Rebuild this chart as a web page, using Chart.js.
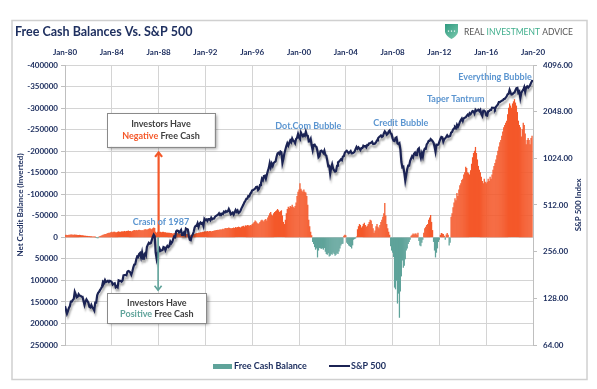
<!DOCTYPE html>
<html>
<head>
<meta charset="utf-8">
<script src="https://cdn.jsdelivr.net/npm/chart.js@4.4.1/dist/chart.umd.min.js"></script>
<style>
  html, body { margin: 0; padding: 0; background: #fff; }
  #wrap { position: relative; width: 597px; height: 389px; }
</style>
</head>
<body>
<div id="wrap"><canvas id="chart" width="597" height="389"></canvas></div>
<script>
// Eje superior (fechas) y eje derecho (S&P 500, log)
const tickYears = [1980, 1984, 1988, 1992, 1996, 2000, 2004, 2008, 2012, 2016, 2020];
const tickLabels = ['Jan-80', 'Jan-84', 'Jan-88', 'Jan-92', 'Jan-96', 'Jan-00', 'Jan-04', 'Jan-08', 'Jan-12', 'Jan-16', 'Jan-20'];
const spTicks = [64, 128, 256, 512, 1024, 2048, 4096];

// S&P 500, cierre mensual
const spx1980s = [
    114, 114, 102, 106, 111, 114, 122, 122, 125, 127, 141, 136,
    130, 131, 136, 133, 133, 131, 131, 123, 116, 122, 126, 123,
    120, 113, 112, 116, 112, 110, 107, 120, 120, 134, 139, 141,
    145, 148, 153, 164, 162, 168, 163, 164, 166, 163, 166, 165,
    163, 157, 159, 160, 151, 153, 151, 167, 166, 166, 164, 167,
    180, 181, 181, 180, 190, 192, 191, 188, 182, 190, 202, 211,
    212, 227, 238, 236, 247, 251, 236, 253, 231, 244, 249, 242,
    274, 284, 292, 288, 290, 304, 319, 330, 322, 252, 230, 247,
    257, 268, 259, 261, 262, 274, 272, 262, 272, 279, 274, 278,
    297, 289, 295, 310, 321, 318, 346, 351, 349, 340, 346, 353
];
const spx1990s = [
    329, 332, 340, 331, 361, 358, 356, 323, 306, 304, 322, 330,
    344, 367, 375, 375, 390, 371, 388, 395, 388, 392, 375, 417,
    409, 413, 404, 415, 415, 408, 424, 414, 418, 419, 431, 436,
    439, 443, 452, 440, 450, 451, 448, 464, 459, 468, 462, 466,
    482, 467, 446, 451, 457, 444, 458, 475, 463, 472, 454, 459,
    470, 487, 501, 515, 533, 545, 562, 562, 584, 582, 605, 616,
    636, 640, 646, 654, 669, 671, 640, 652, 687, 705, 757, 741,
    786, 791, 757, 801, 848, 885, 954, 899, 947, 915, 955, 970,
    980, 1049, 1102, 1112, 1091, 1134, 1121, 957, 1017, 1099, 1164, 1229,
    1280, 1238, 1286, 1335, 1302, 1373, 1329, 1320, 1283, 1363, 1389, 1469
];
const spx2000s = [
    1394, 1366, 1499, 1452, 1421, 1455, 1431, 1518, 1437, 1429, 1315, 1320,
    1366, 1240, 1160, 1249, 1256, 1224, 1211, 1134, 1041, 1060, 1139, 1148,
    1130, 1107, 1147, 1077, 1067, 990, 912, 916, 815, 886, 936, 880,
    856, 841, 848, 917, 964, 975, 990, 1008, 996, 1051, 1058, 1112,
    1131, 1145, 1126, 1107, 1121, 1141, 1102, 1104, 1115, 1130, 1174, 1212,
    1181, 1204, 1181, 1157, 1192, 1191, 1234, 1220, 1229, 1207, 1249, 1248,
    1280, 1281, 1295, 1311, 1270, 1270, 1277, 1304, 1336, 1378, 1401, 1418,
    1438, 1407, 1421, 1482, 1531, 1503, 1455, 1474, 1527, 1549, 1481, 1468,
    1379, 1331, 1323, 1386, 1400, 1280, 1267, 1283, 1165, 969, 896, 903,
    826, 735, 798, 873, 919, 919, 987, 1021, 1057, 1036, 1096, 1115
];
const spx2010s = [
    1074, 1104, 1169, 1187, 1089, 1031, 1102, 1049, 1141, 1183, 1181, 1258,
    1286, 1327, 1326, 1364, 1345, 1321, 1292, 1219, 1131, 1253, 1247, 1258,
    1312, 1366, 1408, 1398, 1310, 1362, 1379, 1407, 1441, 1412, 1416, 1426,
    1498, 1515, 1569, 1598, 1631, 1606, 1686, 1633, 1682, 1757, 1806, 1848,
    1783, 1859, 1872, 1884, 1924, 1960, 1931, 2003, 1972, 2018, 2068, 2059,
    1995, 2105, 2068, 2086, 2107, 2063, 2104, 1972, 1920, 2079, 2080, 2044,
    1940, 1932, 2060, 2065, 2097, 2099, 2174, 2171, 2168, 2126, 2199, 2239,
    2279, 2364, 2363, 2384, 2412, 2423, 2470, 2472, 2519, 2575, 2648, 2674,
    2824, 2714, 2641, 2648, 2705, 2718, 2816, 2902, 2914, 2712, 2760, 2507,
    2704, 2784, 2834, 2946, 2752, 2942, 2980, 2926, 2977, 3038, 3141, 3231
];
const spx2020 = [3226];

// Free Cash Balance mensual (negativo = sin efectivo libre)
const cash1980s = [
    -4500, -5000, -4500, -4500, -5000, -5000, -5500, -5500, -5000, -5000, -5500, -5000,
    -5000, -4500, -4500, -5000, -4500, -4000, -4000, -3500, -3000, -3000, -2500, -2500,
    -2000, -2000, -1500, -1500, -1000, -1000, -800, -500, 0, 1500, 800, -1000,
    -2000, -3000, -4000, -5000, -6000, -7000, -7000, -8000, -9000, -10000, -10000, -11000,
    -12000, -11000, -12000, -12000, -11000, -11000, -12000, -13000, -12000, -12000, -13000, -13000,
    -13000, -14000, -13000, -14000, -14000, -15000, -14000, -14000, -13000, -14000, -15000, -16000,
    -15000, -16000, -15000, -16000, -17000, -16000, -15000, -16000, -15000, -17000, -18000, -18000,
    -17000, -18000, -19000, -20000, -19000, -18000, -20000, -22000, -21000, -12000, -10000, -12000,
    -11000, -12000, -12000, -11000, -12000, -12000, -11000, -11000, -10000, -10000, -10000, -10000,
    -9000, -9000, -8000, -8000, -9000, -8000, -9000, -9000, -8000, -7000, -7000, -8000
];
const cash1990s = [
    -8000, -7000, -7000, -6000, -7000, -7000, -7000, -5000, -4000, -4000, -5000, -6000,
    -6000, -7000, -8000, -9000, -9000, -10000, -10000, -11000, -11000, -12000, -12000, -13000,
    -13000, -13000, -14000, -13000, -14000, -14000, -13000, -14000, -14000, -15000, -15000, -16000,
    -16000, -17000, -16000, -18000, -17000, -18000, -19000, -18000, -20000, -21000, -20000, -21000,
    -22000, -21000, -20000, -20000, -21000, -22000, -21000, -23000, -22000, -23000, -24000, -23000,
    -22000, -24000, -25000, -26000, -24000, -27000, -26000, -28000, -27000, -26000, -28000, -27000,
    -30000, -32000, -35000, -38000, -36000, -33000, -30000, -32000, -35000, -38000, -40000, -38000,
    -36000, -40000, -42000, -38000, -45000, -50000, -55000, -58000, -52000, -50000, -55000, -58000,
    -60000, -62000, -65000, -62000, -58000, -60000, -62000, -50000, -35000, -30000, -40000, -55000,
    -65000, -70000, -68000, -72000, -70000, -75000, -70000, -68000, -72000, -80000, -95000, -105000
];
const cash2000s = [
    -110000, -125000, -112000, -108000, -105000, -110000, -105000, -103000, -95000, -75000, -40000, -25000,
    -12000, -4000, 10000, 15000, 22000, 28000, 25000, 46000, 30000, 24000, 25000, 26000,
    25000, 28000, 24000, 33000, 38000, 40000, 36000, 44000, 42000, 38000, 40000, 35000,
    38000, 42000, 40000, 36000, 38000, 32000, 25000, 18000, 15000, 14000, -3000, -5000,
    -4000, 12000, 15000, 18000, 20000, 22000, 25000, 18000, 5000, 3000, 2000, -1000,
    -18000, -25000, -30000, -28000, -22000, -25000, -30000, -33000, -28000, -24000, -26000, -30000,
    -35000, -40000, -38000, -30000, -20000, -10000, -15000, -25000, -30000, -24000, -20000, -28000,
    -35000, -40000, -47000, -55000, -79000, -50000, -30000, -20000, -12000, -5000, 20000, 30000,
    35000, 45000, 116000, 120000, 100000, 153000, 130000, 186000, 125000, 90000, 53000, 70000,
    65000, 50000, 30000, 25000, 15000, 10000, 5000, -3000, -5000, -8000, -6000, -8000
];
const cash2010s = [
    -8000, -5000, -10000, 8000, 18000, 20000, 12000, 5000, -10000, -20000, -24000, -28000,
    -30000, -40000, -45000, -51000, -35000, -16000, 10000, 30000, 46000, 35000, 25000, 10000,
    5000, -5000, -9000, -8000, -7000, -3000, 5000, -6000, -9000, -5000, 18000, 12000,
    -47000, -55000, -69000, -80000, -90000, -85000, -102000, -95000, -110000, -120000, -125000, -132000,
    -135000, -145000, -150000, -163000, -160000, -150000, -148000, -145000, -155000, -170000, -185000, -195000,
    -200000, -209000, -195000, -180000, -165000, -156000, -150000, -140000, -130000, -125000, -135000, -128000,
    -125000, -128000, -135000, -130000, -140000, -135000, -145000, -156000, -165000, -172000, -180000, -190000,
    -200000, -210000, -220000, -225000, -235000, -245000, -255000, -260000, -265000, -270000, -285000, -300000,
    -310000, -305000, -300000, -310000, -315000, -320000, -312000, -305000, -290000, -270000, -260000, -255000,
    -233000, -250000, -265000, -260000, -240000, -215000, -225000, -230000, -225000, -215000, -230000, -235000
];

// Colores
const navy = '#1f3060';
const lineNavy = '#1b2354';
const orange = '#f4582a';
const teal = '#5fa39a';
const noteBlue = '#5b95d0';
const gridColor = '#d4d4d4';
const axisGray = '#bfbfbf';
const FONT = "Lato, 'Open Sans', sans-serif";

// Convertir meses a puntos {x: año decimal, y}
function monthly(values, firstYear) {
    return values.map((v, i) => ({ x: firstYear + i / 12, y: v }));
}

const spxPoints = monthly([...spx1980s, ...spx1990s, ...spx2000s, ...spx2010s, ...spx2020], 1980);
const cashPoints = monthly([...cash1980s, ...cash1990s, ...cash2000s, ...cash2010s], 1980);

// Sombra de la línea del S&P
const lineShadow = {
    id: 'lineShadow',
    beforeDatasetDraw(chart, args) {
        if (args.meta.type !== 'line') return;
        const ctx = chart.ctx;
        ctx.save();
        ctx.shadowColor = 'rgba(0, 0, 0, 0.32)';
        ctx.shadowBlur = 2;
        ctx.shadowOffsetX = 1;
        ctx.shadowOffsetY = 3;
    },
    afterDatasetDraw(chart, args) {
        if (args.meta.type !== 'line') return;
        chart.ctx.restore();
    }
};

// Notas sobre el gráfico (en unidades de datos)
const notes = [
    { text: 'Crash of 1987', x: 1988.2, y: -35000 },
    { text: 'Dot.Com Bubble', x: 2000.8, y: -258000 },
    { text: 'Credit Bubble', x: 2008.7, y: -265000 },
    { text: 'Taper Tantrum', x: 2013.4, y: -321000 },
    { text: 'Everything Bubble', x: 2016.75, y: -372000 }
];

function arrow(ctx, x, y0, y1, color, width) {
    const dir = y1 < y0 ? -1 : 1;
    ctx.strokeStyle = color;
    ctx.lineWidth = width;
    ctx.lineCap = 'butt';
    ctx.beginPath();
    ctx.moveTo(x, y0);
    ctx.lineTo(x, y1);
    ctx.stroke();
    ctx.beginPath();
    ctx.moveTo(x - 3.5, y1 - dir * 4.5);
    ctx.lineTo(x, y1);
    ctx.lineTo(x + 3.5, y1 - dir * 4.5);
    ctx.stroke();
}

function noteBox(ctx, x0, y0, x1, y1, word, wordColor) {
    ctx.save();
    ctx.shadowColor = 'rgba(0, 0, 0, 0.35)';
    ctx.shadowBlur = 3;
    ctx.shadowOffsetX = 2;
    ctx.shadowOffsetY = 2;
    ctx.fillStyle = '#fff';
    ctx.fillRect(x0, y0, x1 - x0, y1 - y0);
    ctx.restore();
    ctx.strokeStyle = '#8a8a8a';
    ctx.lineWidth = 1;
    ctx.strokeRect(Math.round(x0) + 0.5, Math.round(y0) + 0.5, Math.round(x1 - x0), Math.round(y1 - y0));

    const cx = (x0 + x1) / 2;
    const h = y1 - y0;
    ctx.font = 'bold 9px ' + FONT;
    ctx.textBaseline = 'middle';
    ctx.textAlign = 'center';
    ctx.fillStyle = '#404040';
    ctx.fillText('Investors Have', cx, y0 + h * 0.32);
    const rest = ' Free Cash';
    const w1 = ctx.measureText(word).width;
    const w2 = ctx.measureText(rest).width;
    const start = cx - (w1 + w2) / 2;
    ctx.textAlign = 'left';
    ctx.fillStyle = wordColor;
    ctx.fillText(word, start, y0 + h * 0.68);
    ctx.fillStyle = '#404040';
    ctx.fillText(rest, start + w1, y0 + h * 0.68);
}

const annotations = {
    id: 'annotations',
    afterDatasetsDraw(chart) {
        const ctx = chart.ctx;
        const xs = chart.scales.x;
        const ys = chart.scales.y;
        ctx.save();

        // Flechas
        const ax = xs.getPixelForValue(1988.0);
        arrow(ctx, ax, ys.getPixelForValue(0), ys.getPixelForValue(-197000), orange, 2.2);
        arrow(ctx, ax - 0.5, ys.getPixelForValue(0), ys.getPixelForValue(123000), teal, 1.6);

        // Cuadros
        noteBox(ctx, xs.getPixelForValue(1983.6), ys.getPixelForValue(-288000),
            xs.getPixelForValue(1992.8), ys.getPixelForValue(-210000), 'Negative', orange);
        noteBox(ctx, xs.getPixelForValue(1983.6), ys.getPixelForValue(130000),
            xs.getPixelForValue(1992.1), ys.getPixelForValue(200000), 'Positive', teal);

        // Etiquetas
        ctx.font = 'bold 9px ' + FONT;
        ctx.textAlign = 'center';
        ctx.textBaseline = 'middle';
        ctx.fillStyle = noteBlue;
        notes.forEach(n => {
            ctx.fillText(n.text, xs.getPixelForValue(n.x), ys.getPixelForValue(n.y));
        });
        ctx.restore();
    },
    afterDraw(chart) {
        const ctx = chart.ctx;
        ctx.save();

        // Marco
        ctx.strokeStyle = '#d0d0d0';
        ctx.lineWidth = 1.5;
        ctx.strokeRect(12, 20.5, 575, 359);

        // Título
        ctx.font = 'bold 12.5px ' + FONT;
        ctx.fillStyle = navy;
        ctx.textAlign = 'left';
        ctx.textBaseline = 'middle';
        ctx.fillText('Free Cash Balances Vs. S&P 500', 15, 32);

        // Logo
        const grad = ctx.createLinearGradient(445, 24, 458, 38);
        grad.addColorStop(0, '#2f9a80');
        grad.addColorStop(1, '#79c9ad');
        ctx.fillStyle = grad;
        ctx.beginPath();
        ctx.moveTo(445, 24);
        ctx.lineTo(458, 24);
        ctx.lineTo(458, 32);
        ctx.quadraticCurveTo(457, 36, 451.5, 39);
        ctx.quadraticCurveTo(446, 36, 445, 32);
        ctx.closePath();
        ctx.fill();
        ctx.fillStyle = '#fff';
        [448.5, 451.5, 454.5].forEach(dx => ctx.fillRect(dx - 0.6, 30.5, 1.2, 1.2));

        ctx.font = '8.5px ' + FONT;
        ctx.textBaseline = 'middle';
        let lx = 464;
        [['REAL ', '#555'], ['INVESTMENT ', '#3fae8c'], ['ADVICE', '#555']].forEach(([t, c]) => {
            ctx.fillStyle = c;
            ctx.fillText(t, lx, 32);
            lx += ctx.measureText(t).width;
        });

        // Título eje derecho
        ctx.save();
        ctx.translate(578, chart.chartArea.top + (chart.chartArea.bottom - chart.chartArea.top) / 2);
        ctx.rotate(-Math.PI / 2);
        ctx.font = 'bold 8px ' + FONT;
        ctx.fillStyle = navy;
        ctx.textAlign = 'center';
        ctx.fillText('S&P 500 Index', 0, 0);
        ctx.restore();

        // Leyenda
        ctx.fillStyle = teal;
        ctx.fillRect(213, 364, 19, 5);
        ctx.font = 'bold 9px ' + FONT;
        ctx.fillStyle = navy;
        ctx.textAlign = 'left';
        ctx.fillText('Free Cash Balance', 234, 366.5);
        ctx.strokeStyle = lineNavy;
        ctx.lineWidth = 2;
        ctx.beginPath();
        ctx.moveTo(329, 366);
        ctx.lineTo(350, 366);
        ctx.stroke();
        ctx.fillText('S&P 500', 351, 366.5);

        ctx.restore();
    }
};

Chart.defaults.font.family = FONT;
Chart.defaults.font.weight = 'bold';
Chart.defaults.font.size = 8;
Chart.defaults.color = navy;

new Chart(document.getElementById('chart'), {
    type: 'bar',
    data: {
        datasets: [{
            type: 'line',
            label: 'S&P 500',
            data: spxPoints,
            yAxisID: 'y1',
            borderColor: lineNavy,
            borderWidth: 2.2,
            pointRadius: 0,
            tension: 0,
            order: 0
        }, {
            type: 'bar',
            label: 'Free Cash Balance',
            data: cashPoints,
            yAxisID: 'y',
            backgroundColor: ctx => (ctx.raw && ctx.raw.y < 0 ? orange : teal),
            borderWidth: 0,
            barThickness: 0.6,
            order: 1
        }]
    },
    options: {
        responsive: false,
        animation: false,
        devicePixelRatio: 1,
        layout: { padding: { left: 12, right: 10, top: 0, bottom: 44 } },
        plugins: {
            legend: { display: false },
            tooltip: { enabled: false }
        },
        scales: {
            x: {
                type: 'linear',
                position: 'top',
                min: 1980,
                max: 2020,
                offset: false,
                afterBuildTicks: axis => { axis.ticks = tickYears.map(v => ({ value: v })); },
                afterFit: axis => { axis.height = 65; },
                ticks: {
                    padding: 8,
                    maxRotation: 0,
                    autoSkip: false,
                    callback: (v, i) => tickLabels[i]
                },
                grid: { color: gridColor, drawTicks: false, offset: false },
                border: { display: false }
            },
            y: {
                position: 'left',
                reverse: true,
                min: -400000,
                max: 250000,
                afterFit: axis => { axis.width = 53; },
                ticks: { stepSize: 50000, padding: 3, callback: v => String(v) },
                grid: { color: gridColor, tickLength: 4, tickColor: axisGray },
                border: { color: axisGray },
                title: {
                    display: true,
                    text: 'Net Credit Balance (Inverted)',
                    padding: { top: 4, bottom: 0 }
                }
            },
            y1: {
                type: 'logarithmic',
                position: 'right',
                min: 64,
                max: 4096,
                afterBuildTicks: axis => { axis.ticks = spTicks.map(v => ({ value: v })); },
                afterFit: axis => { axis.width = 54; },
                ticks: { padding: 6, callback: v => Number(v).toFixed(2) },
                grid: { drawOnChartArea: false, tickLength: 4, tickColor: axisGray },
                border: { color: axisGray }
            }
        }
    },
    plugins: [lineShadow, annotations]
});
</script>
</body>
</html>
